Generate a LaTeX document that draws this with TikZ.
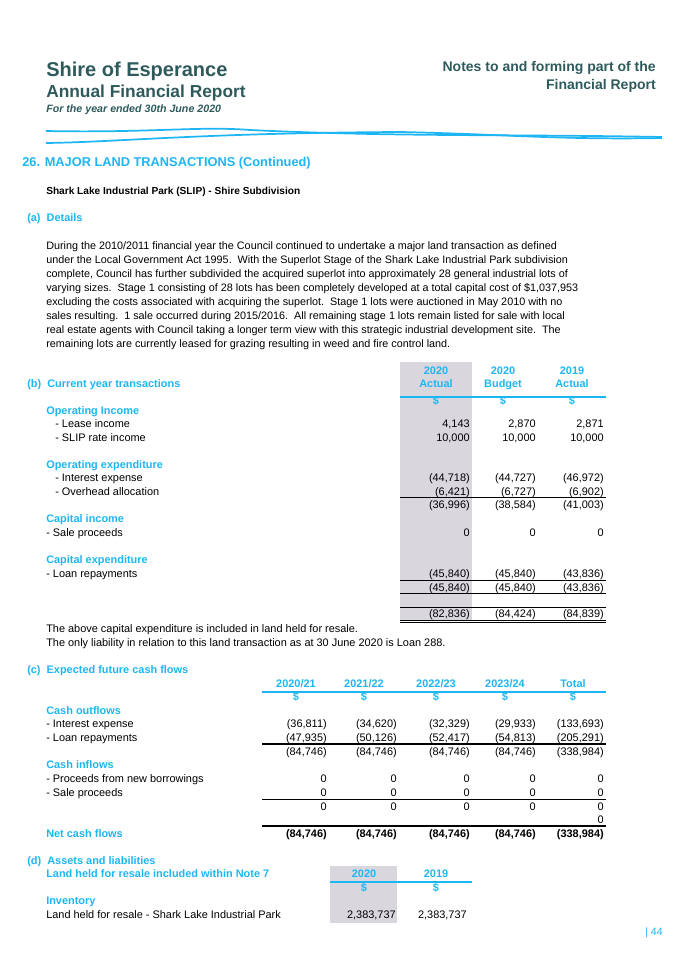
\documentclass[tikz,border=0pt]{standalone}
\usepackage{fontspec}
\setmainfont{Liberation Sans}
\definecolor{teal}{HTML}{2E5A5C}
\definecolor{sky}{HTML}{1EB6F2}
\definecolor{greybox}{HTML}{DAD6DD}
\tikzset{
  lbl/.style={anchor=base west,inner sep=0pt,font=\fontsize{8.2}{10}\selectfont},
  num/.style={anchor=base east,inner sep=0pt,font=\fontsize{8.2}{10}\selectfont},
  numb/.style={num,font=\fontsize{8.2}{10}\selectfont\bfseries},
  hdg/.style={anchor=base west,inner sep=0pt,text=sky,font=\fontsize{8.2}{10}\selectfont\bfseries},
  colhd/.style={anchor=base,inner sep=0pt,text=sky,font=\fontsize{8.2}{10}\selectfont\bfseries},
  rule/.style={line width=0.6pt},
  bluerule/.style={sky,line width=1.2pt}
}
% one row of table (b): y, name, label, two values
\newcommand{\brow}[5]{
  \node[lbl] (#2) at (55,#1) {#3};
  \node[num] (#2a) at (470,#1) {#4};
  \node[num] (#2b) at (536,#1) {#5};
}
% one row of table (c): y, name, style, five values
\newcommand{\crow}[8]{
  \node[#3] (#2a) at (327,#1) {#4};
  \node[#3] (#2b) at (397,#1) {#5};
  \node[#3] (#2c) at (470,#1) {#6};
  \node[#3] (#2d) at (536,#1) {#7};
  \node[#3] (#2e) at (604,#1) {#8};
}
\begin{document}
\begin{tikzpicture}[x=0.75pt,y=-0.75pt]
  \useasboundingbox (0,0) rectangle (675,954);
  % shading
  \fill[greybox] (400,362) rectangle (472,621);
  \fill[greybox] (330,866) rectangle (397,923);
  % header
  \node[anchor=base west,inner sep=0pt,text=teal,font=\fontsize{15}{18}\selectfont\bfseries] (shire) at (46,76) {Shire of Esperance};
  \node[anchor=base west,inner sep=0pt,text=teal,font=\fontsize{13}{16}\selectfont\bfseries] (annual) at (46,97) {Annual Financial Report};
  \node[anchor=base west,inner sep=0pt,text=teal,font=\fontsize{8}{10}\selectfont\bfseries\itshape] (year) at (46,112) {For the year ended 30th June 2020};
  \node[anchor=base east,inner sep=0pt,text=teal,font=\fontsize{10.5}{14}\selectfont\bfseries] (notes) at (656,71) {Notes to and forming part of the};
  \node[anchor=base east,inner sep=0pt,text=teal,font=\fontsize{10.5}{14}\selectfont\bfseries] (finrep) at (656,89) {Financial Report};
  \draw[sky,line width=1.3pt] (46,131) .. controls (150,133) and (200,126) .. (250,130) .. controls (400,137) and (500,134) .. (662,137);
  \draw[sky,line width=1.3pt] (46,143) .. controls (120,142) and (200,133) .. (400,132) .. controls (500,134) and (560,140) .. (662,138);
  % section (a)
  \node[anchor=base west,inner sep=0pt,text=sky,font=\fontsize{9.6}{12}\selectfont\bfseries] (title) at (22,166) {26. MAJOR LAND TRANSACTIONS (Continued)};
  \node[anchor=base west,inner sep=0pt,font=\fontsize{7.6}{10}\selectfont\bfseries] (slip) at (46,194) {Shark Lake Industrial Park (SLIP) - Shire Subdivision};
  \node[hdg] (a) at (27,221) {(a) \ Details};
  \node[anchor=north west,inner sep=0pt,align=left,font=\fontsize{8.1}{10.5}\selectfont] (para) at (46,241)
    {During the 2010/2011 financial year the Council continued to undertake a major land transaction as defined\\
     under the Local Government Act 1995.\ \ With the Superlot Stage of the Shark Lake Industrial Park subdivision\\
     complete, Council has further subdivided the acquired superlot into approximately 28 general industrial lots of\\
     varying sizes.\ \ Stage 1 consisting of 28 lots has been completely developed at a total capital cost of \$1,037,953\\
     excluding the costs associated with acquiring the superlot.\ \ Stage 1 lots were auctioned in May 2010 with no\\
     sales resulting.\ \ 1 sale occurred during 2015/2016.\ \ All remaining stage 1 lots remain listed for sale with local\\
     real estate agents with Council taking a longer term view with this strategic industrial development site.\ \ The\\
     remaining lots are currently leased for grazing resulting in weed and fire control land.};
  % section (b)
  \node[colhd] (h1a) at (436,374) {2020};
  \node[colhd] (h2a) at (503,374) {2020};
  \node[colhd] (h3a) at (572,374) {2019};
  \node[colhd] (h1b) at (436,387) {Actual};
  \node[colhd] (h2b) at (503,387) {Budget};
  \node[colhd] (h3b) at (572,387) {Actual};
  \node[hdg] (b) at (27,387) {(b) \ Current year transactions};
  \coordinate (bl) at (400,397); \coordinate (br) at (606,397);
  \draw[bluerule] (bl) -- (br);
  \node[colhd] (d1) at (436,404) {\$};
  \node[colhd] (d2) at (503,404) {\$};
  \node[colhd] (d3) at (572,404) {\$};
  \node[hdg] (opinc) at (46,414) {Operating Income};
  \brow{427}{lease}{- Lease income}{4,143}{2,870} \node[num] (leasec) at (604,427) {2,871};
  \brow{441}{rate}{- SLIP rate income}{10,000}{10,000} \node[num] (ratec) at (604,441) {10,000};
  \node[hdg] (opexp) at (46,468) {Operating expenditure};
  \brow{481}{int}{- Interest expense}{(44,718)}{(44,727)} \node[num] (intc) at (604,481) {(46,972)};
  \brow{495}{ovh}{- Overhead allocation}{(6,421)}{(6,727)} \node[num] (ovhc) at (604,495) {(6,902)};
  \draw[rule] (400,497) -- (606,497);
  \node[num] (s1a) at (470,508) {(36,996)}; \node[num] (s1b) at (536,508) {(38,584)}; \node[num] (s1c) at (604,508) {(41,003)};
  \node[hdg] (capinc) at (46,522) {Capital income};
  \node[lbl] (sale) at (46,536) {- Sale proceeds};
  \node[num] (salea) at (470,536) {0}; \node[num] (saleb) at (536,536) {0}; \node[num] (salec) at (604,536) {0};
  \node[hdg] (capexp) at (46,563) {Capital expenditure};
  \node[lbl] (loan) at (46,577) {- Loan repayments};
  \node[num] (loana) at (470,577) {(45,840)}; \node[num] (loanb) at (536,577) {(45,840)}; \node[num] (loanc) at (604,577) {(43,836)};
  \draw[rule] (400,580) -- (606,580);
  \node[num] (s2a) at (470,591) {(45,840)}; \node[num] (s2b) at (536,591) {(45,840)}; \node[num] (s2c) at (604,591) {(43,836)};
  \draw[rule] (400,593) -- (606,593);
  \draw[rule] (400,607) -- (606,607);
  \node[num] (tota) at (470,617) {(82,836)}; \node[num] (totb) at (536,617) {(84,424)}; \node[num] (totc) at (604,617) {(84,839)};
  \draw[rule] (400,620) -- (606,620);
  \draw[rule] (400,622.5) -- (606,622.5);
  \node[lbl] (note1) at (46,632) {The above capital expenditure is included in land held for resale.};
  \node[lbl] (note2) at (46,646) {The only liability in relation to this land transaction as at 30 June 2020 is Loan 288.};
  % section (c)
  \node[hdg] (c) at (27,673) {(c) \ Expected future cash flows};
  \foreach \x/\t [count=\i] in {296/2020\slash 21,364/2021\slash 22,436/2022\slash 23,505/2023\slash 24,573/Total}
    \node[colhd] (ch\i) at (\x,687) {\t};
  \draw[bluerule] (262,692) -- (606,692);
  \foreach \x [count=\i] in {296,364,436,505,573}
    \node[colhd] (cd\i) at (\x,700) {\$};
  \node[hdg] (out) at (46,714) {Cash outflows};
  \node[lbl] (cint) at (46,727) {- Interest expense};
  \crow{727}{ci}{num}{(36,811)}{(34,620)}{(32,329)}{(29,933)}{(133,693)}
  \node[lbl] (cloan) at (46,741) {- Loan repayments};
  \crow{741}{cl}{num}{(47,935)}{(50,126)}{(52,417)}{(54,813)}{(205,291)}
  \draw[rule,line width=1pt] (262,744) -- (606,744);
  \crow{755}{cs}{num}{(84,746)}{(84,746)}{(84,746)}{(84,746)}{(338,984)}
  \node[hdg] (in) at (46,768) {Cash inflows};
  \node[lbl] (cprc) at (46,782) {- Proceeds from new borrowings};
  \crow{782}{cp}{num}{0}{0}{0}{0}{0}
  \node[lbl] (csale) at (46,796) {- Sale proceeds};
  \crow{796}{cq}{num}{0}{0}{0}{0}{0}
  \draw[rule] (262,799) -- (606,799);
  \crow{810}{ct}{num}{0}{0}{0}{0}{0}
  \node[num] (zero) at (604,823) {0};
  \draw[rule,line width=1pt] (262,826) -- (606,826);
  \node[hdg] (net) at (46,837) {Net cash flows};
  \crow{837}{cn}{numb}{(84,746)}{(84,746)}{(84,746)}{(84,746)}{(338,984)}
  % section (d)
  \node[hdg] (d) at (27,864) {(d) \ Assets and liabilities};
  \node[hdg] (land) at (46,877) {Land held for resale included within Note 7};
  \node[colhd] (dh1) at (364,877) {2020};
  \node[colhd] (dh2) at (436,877) {2019};
  \draw[bluerule] (330,882) -- (472,882);
  \node[colhd] (dd1) at (364,891) {\$};
  \node[colhd] (dd2) at (436,891) {\$};
  \node[hdg] (inv) at (46,904) {Inventory};
  \node[lbl] (lhr) at (46,918) {Land held for resale - Shark Lake Industrial Park};
  \node[num] (lhra) at (396,918) {2,383,737};
  \node[num] (lhrb) at (467,918) {2,383,737};
  \node[anchor=base west,inner sep=0pt,text=sky,font=\fontsize{8}{10}\selectfont] (page) at (645,935) {| 44};
\end{tikzpicture}
\end{document}
